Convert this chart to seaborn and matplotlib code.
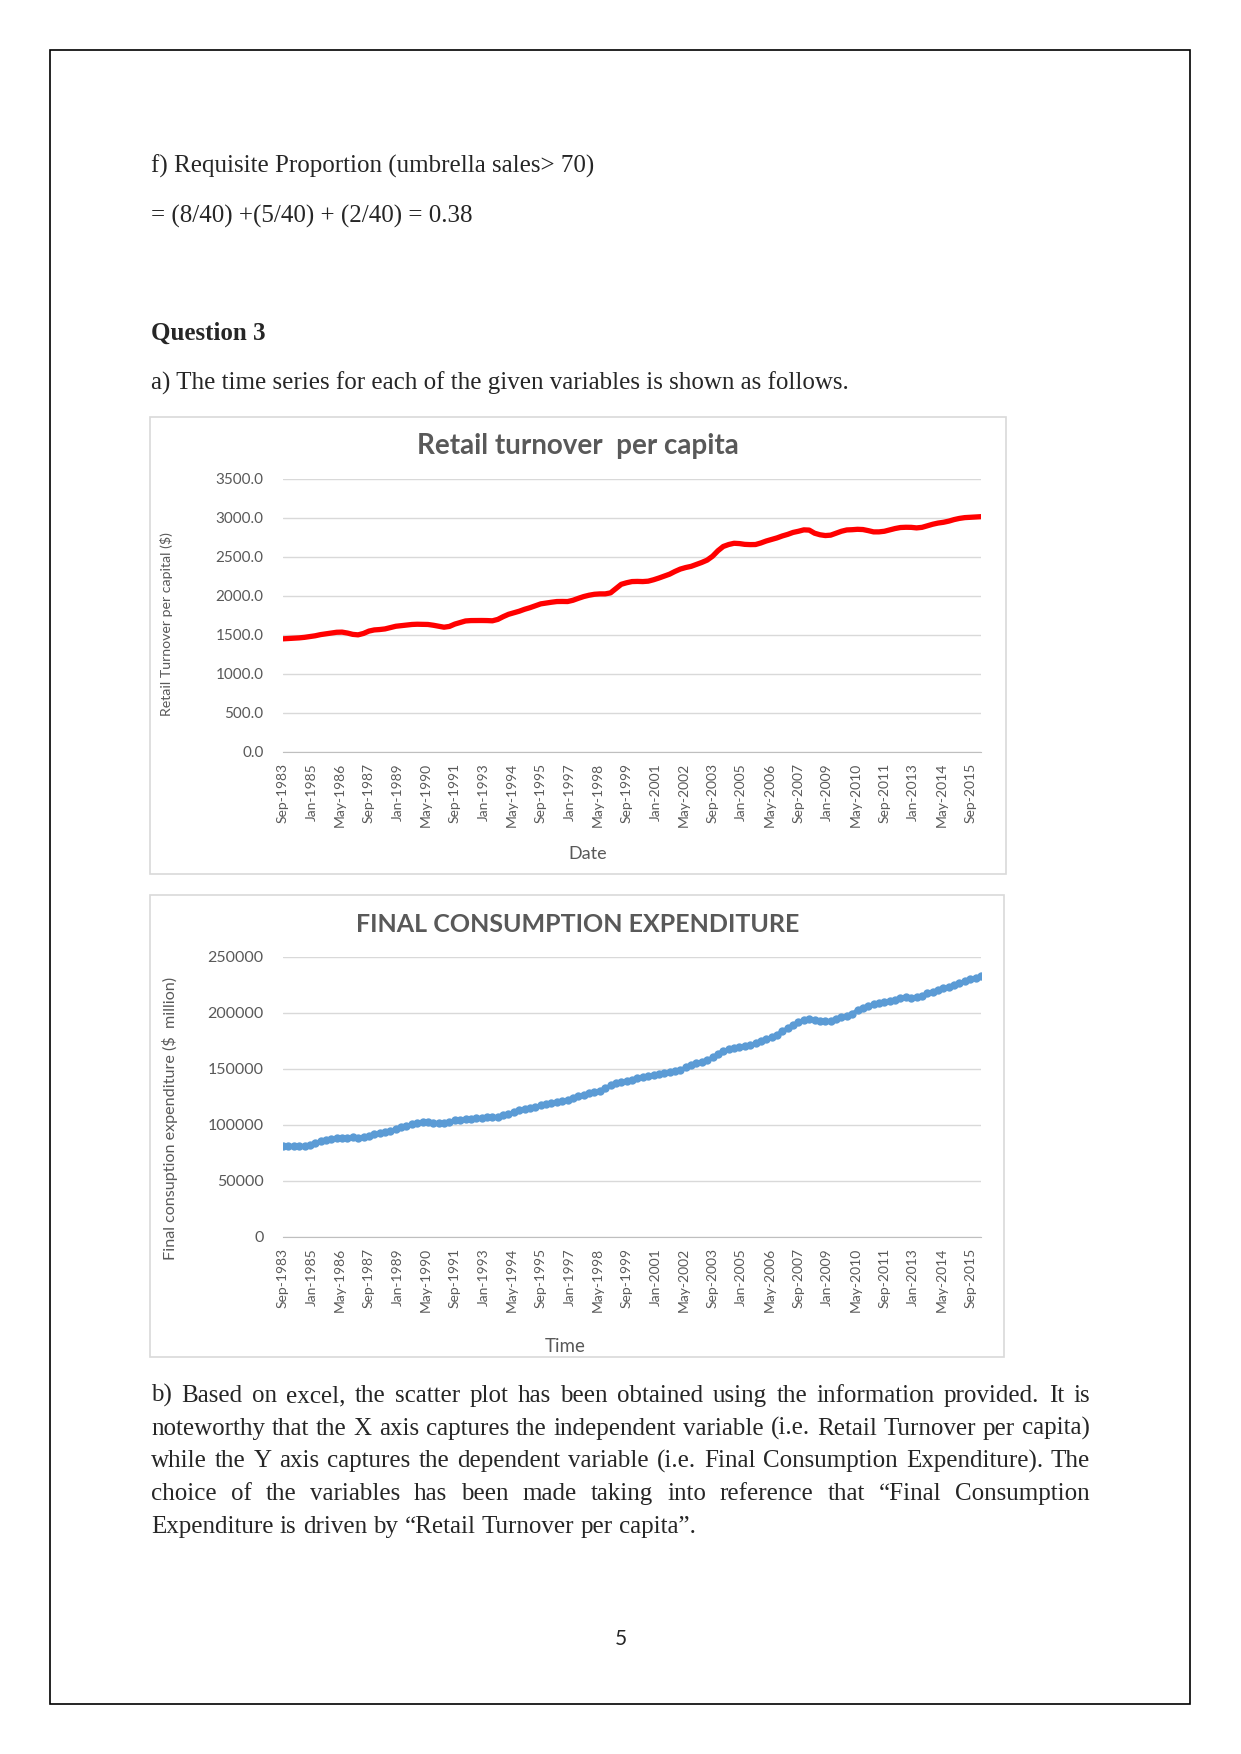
import matplotlib
matplotlib.use("Agg")
import matplotlib.pyplot as plt
import matplotlib.ticker as mticker
from matplotlib.patches import Rectangle
import pandas as pd
import seaborn as sns

W, H = 1241, 1754

# quarterly series, Sep-1983 .. Mar-2016
start_date = "1983-09-01"
retail_turnover = [
    1451, 1455, 1460, 1463, 1470, 1480, 1490, 1505, 1515, 1525,
    1535, 1537, 1525, 1508, 1502, 1520, 1550, 1565, 1570, 1578,
    1595, 1612, 1620, 1628, 1635, 1638, 1636, 1635, 1625, 1612,
    1600, 1610, 1640, 1660, 1680, 1685, 1686, 1686, 1685, 1682,
    1700, 1735, 1765, 1785, 1805, 1830, 1850, 1875, 1899, 1910,
    1920, 1929, 1930, 1929, 1945, 1970, 1993, 2010, 2022, 2027,
    2027, 2040, 2095, 2150, 2170, 2185, 2187, 2185, 2190, 2208,
    2230, 2255, 2280, 2315, 2345, 2365, 2380, 2405, 2430, 2460,
    2510, 2580, 2635, 2660, 2676, 2672, 2662, 2659, 2660, 2680,
    2705, 2725, 2745, 2770, 2790, 2815, 2830, 2848, 2845, 2805,
    2785, 2775, 2780, 2805, 2830, 2847, 2850, 2855, 2852, 2838,
    2822, 2822, 2830, 2848, 2865, 2878, 2881, 2880, 2873, 2880,
    2900, 2920, 2935, 2945, 2960, 2980, 2995, 3005, 3009, 3012,
    3017,
]
consumption = [
    81500, 81300, 81400, 81200, 81100, 82000, 84000, 86000, 87000, 87500,
    88000, 88300, 88700, 88900, 88800, 89000, 90500, 91800, 92500, 93500,
    94600, 96000, 98000, 99500, 100500, 101500, 102300, 102300, 102100, 101900,
    102000, 103000, 104100, 104600, 105000, 105500, 105900, 106300, 106700, 107000,
    107400, 108500, 110000, 111300, 113000, 114500, 115500, 116500, 117500, 118500,
    119800, 120500, 121500, 122700, 123800, 125500, 127000, 128200, 129500, 130700,
    133000, 135500, 137500, 138500, 139500, 140500, 141700, 142500, 143500, 144500,
    145300, 146300, 147300, 148300, 149200, 151500, 154000, 155300, 156500, 158100,
    160500, 163500, 166500, 167700, 168500, 169500, 170500, 171500, 173000, 175000,
    177000, 178400, 180500, 184100, 186500, 189500, 192000, 193500, 194800, 194000,
    193200, 193000, 193100, 194500, 196000, 197500, 199500, 202900, 204500, 206500,
    207900, 208800, 209800, 210300, 211500, 213300, 214000, 213800, 213900, 215500,
    217500, 219000, 220500, 222300, 223500, 225000, 226500, 228500, 230000, 231500,
    233300,
]
dates = pd.date_range(start_date, periods=len(retail_turnover), freq="3MS")
tick_dates = pd.date_range(start_date, periods=25, freq="16MS")
tick_labels = [d.strftime("%b-%Y") for d in tick_dates]

retail_ticks = [0, 500, 1000, 1500, 2000, 2500, 3000, 3500]
consumption_ticks = [0, 50000, 100000, 150000, 200000, 250000]

para_b = [
    "b) Based on excel, the scatter plot has been obtained using the information provided. It is",
    "noteworthy that the X axis captures the independent variable (i.e. Retail Turnover per capita)",
    "while the Y axis captures the dependent variable (i.e. Final Consumption Expenditure). The",
    "choice of the variables has been made taking into reference that \u201cFinal Consumption",
    "Expenditure is driven by \u201cRetail Turnover per capita\u201d.",
]

sns.set_style("white")
plt.rcParams["font.family"] = ["Lato", "DejaVu Sans"]
GRAY = "#595959"
SERIF = ["Liberation Serif", "DejaVu Serif"]
BODY = 18

fig = plt.figure(figsize=(W / 100, H / 100), dpi=100)


def fx(x):
    return x / W


def fy(y):
    return 1 - y / H


# page border
fig.patches.append(Rectangle((fx(50), fy(1704)), fx(1140), (1654) / H, transform=fig.transFigure,
                             fill=False, edgecolor="black", linewidth=1.2))

fig.text(fx(151), fy(173), "f) Requisite Proportion (umbrella sales> 70)", family=SERIF, fontsize=BODY, va="baseline")
fig.text(fx(151), fy(223), "= (8/40) +(5/40) + (2/40) = 0.38", family=SERIF, fontsize=BODY, va="baseline")
fig.text(fx(151), fy(340), "Question 3", family=SERIF, fontsize=BODY, weight="bold", va="baseline")
fig.text(fx(151), fy(390), "a) The time series for each of the given variables is shown as follows.",
         family=SERIF, fontsize=BODY, va="baseline")

renderer = fig.canvas.get_renderer()


def justified(line, y, x0, x1, last=False):
    words = line.split(" ")
    texts = [fig.text(0, fy(y), w, family=SERIF, fontsize=BODY, va="baseline") for w in words]
    widths = [t.get_window_extent(renderer).width for t in texts]
    space = texts[0].get_fontsize() * 100 / 72 * 0.25
    gap = space if last else ((x1 - x0) - sum(widths)) / (len(words) - 1)
    x = x0
    for t, w in zip(texts, widths):
        t.set_x(fx(x))
        x += w + gap


for i, line in enumerate(para_b):
    justified(line, 1402 + i * 32.7, 151, 1090, last=(i == len(para_b) - 1))

fig.text(fx(621), fy(1645), "5", family=["Lato", "DejaVu Sans"], fontsize=15, ha="center", va="baseline")

# chart frames
for (x0, y0, x1, y1) in [(150, 417, 1006, 874), (150, 895, 1004, 1357)]:
    fig.patches.append(Rectangle((fx(x0), fy(y1)), (x1 - x0) / W, (y1 - y0) / H, transform=fig.transFigure,
                                 fill=False, edgecolor="#d9d9d9", linewidth=1.2))


def style_axes(ax, ticks, fmt, ysize):
    ax.set_xlim(dates[0], dates[-1])
    ax.set_ylim(ticks[0], ticks[-1])
    ax.set_yticks(ticks)
    ax.yaxis.set_major_formatter(mticker.FuncFormatter(fmt))
    ax.set_xticks(tick_dates)
    ax.set_xticklabels(tick_labels, rotation=90)
    for s in ["top", "right", "left"]:
        ax.spines[s].set_visible(False)
    ax.spines["bottom"].set_color("#bfbfbf")
    ax.yaxis.grid(True, color="#d9d9d9", linewidth=1)
    ax.set_axisbelow(True)
    ax.tick_params(axis="x", length=5, color="#bfbfbf", direction="out", labelsize=10, labelcolor=GRAY, pad=3)
    ax.tick_params(axis="y", length=0, labelsize=ysize, labelcolor=GRAY, pad=14)


# chart 1
ax1 = fig.add_axes([fx(283), fy(752), 698 / W, 273 / H])
sns.lineplot(x=dates, y=retail_turnover, ax=ax1, color="#ff0000", linewidth=3.8)
style_axes(ax1, retail_ticks, lambda v, p: f"{v:.1f}", 11)
ax1.set_xlabel("Date", color=GRAY, fontsize=13)
ax1.xaxis.set_label_coords(0.437, -0.345)
ax1.set_ylabel("Retail Turnover per capital ($)", color=GRAY, fontsize=10.2)
ax1.yaxis.set_label_coords(-0.158, 0.47)
fig.text(fx(578), fy(446), "Retail turnover  per capita", ha="center", va="center",
         fontsize=20, weight="bold", color=GRAY)

# chart 2
ax2 = fig.add_axes([fx(283), fy(1237), 698 / W, 280 / H])
sns.lineplot(x=dates, y=consumption, ax=ax2, color="#5b9bd5", linewidth=2.5,
             marker="o", markersize=6, markeredgewidth=0)
style_axes(ax2, consumption_ticks, lambda v, p: f"{v:.0f}", 11.5)
ax2.set_xlabel("Time", color=GRAY, fontsize=13.5)
ax2.xaxis.set_label_coords(0.404, -0.36)
ax2.set_ylabel("Final consuption expenditure ($  million)", color=GRAY, fontsize=11.6)
ax2.yaxis.set_label_coords(-0.15, 0.425)
fig.text(fx(578), fy(924), "FINAL CONSUMPTION EXPENDITURE", ha="center", va="center",
         fontsize=18, weight="bold", color=GRAY)

fig.savefig("out.png", dpi=100)
